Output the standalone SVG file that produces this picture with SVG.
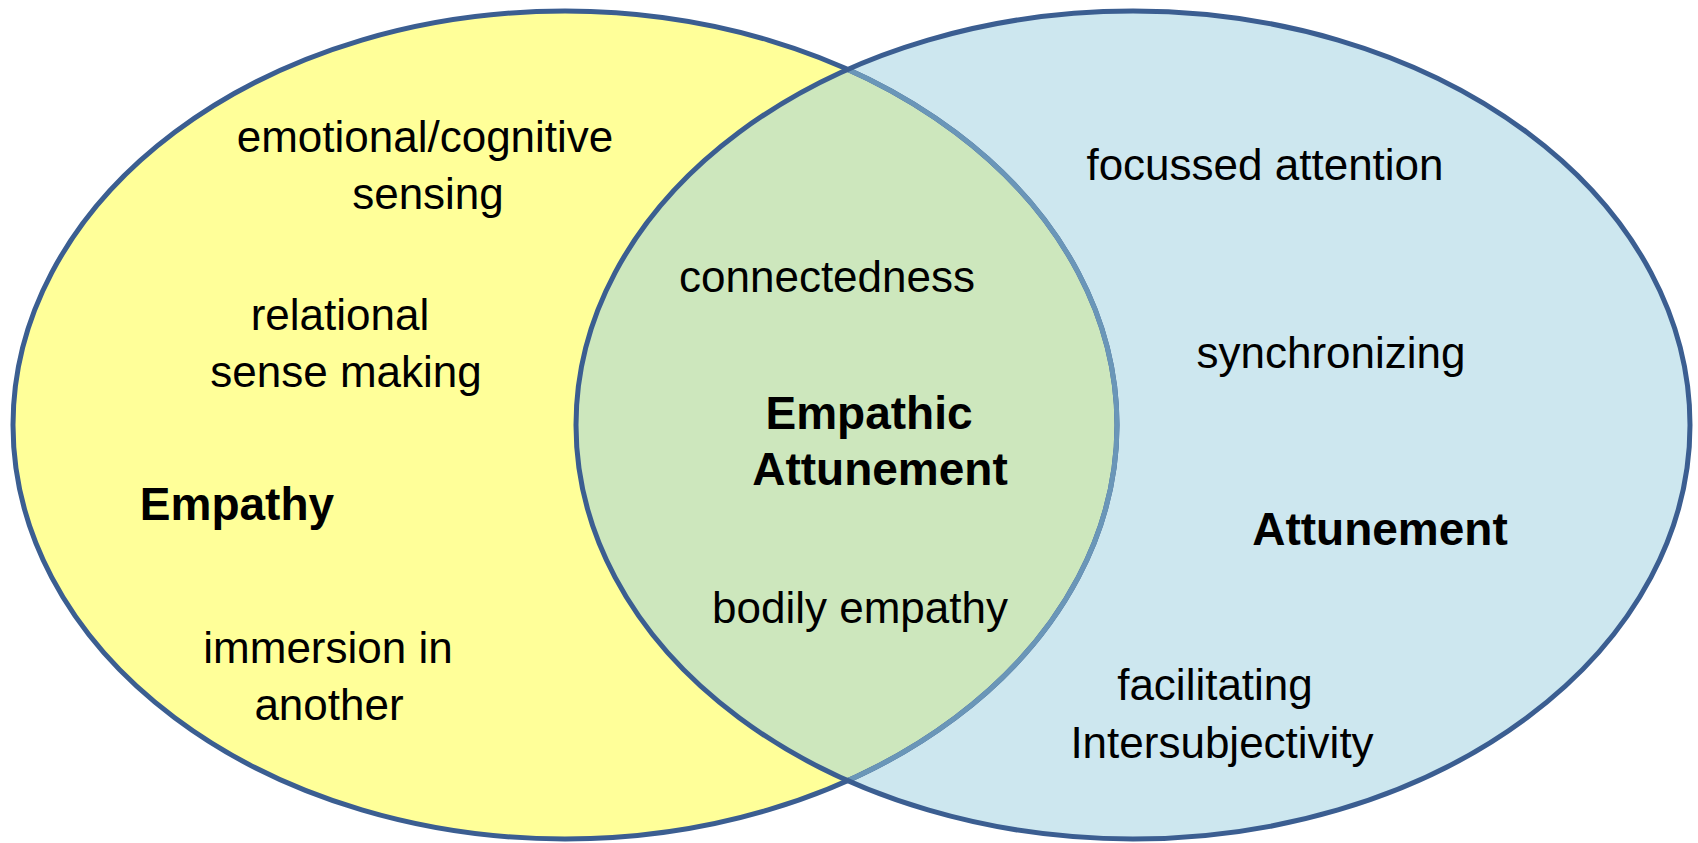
<svg xmlns="http://www.w3.org/2000/svg" width="1698" height="843" viewBox="0 0 1698 843">
<style>
.t{font-family:"Liberation Sans",Arial,sans-serif;font-size:44px;fill:#000;text-anchor:middle}
.b{font-family:"Liberation Sans",Arial,sans-serif;font-size:46px;font-weight:bold;fill:#000;text-anchor:middle}
.edge{fill:none;stroke:#3B5E91;stroke-width:5}
.inner{fill:none;stroke:#6A96B8;stroke-width:5}
</style>
<defs>
<clipPath id="clipL"><ellipse cx="565" cy="425" rx="552" ry="414"/></clipPath>
<clipPath id="clipR"><ellipse cx="1133" cy="425" rx="557" ry="414"/></clipPath>
</defs>
<rect width="1698" height="843" fill="#fff"/>
<g id="empathy">
<ellipse cx="565" cy="425" rx="552" ry="414" fill="#FFFF99"/>
</g>
<g id="attunement">
<ellipse cx="1133" cy="425" rx="557" ry="414" fill="#CDE7EF"/>
</g>
<g id="empathic-attunement">
<ellipse cx="1133" cy="425" rx="557" ry="414" fill="#CDE7BD" clip-path="url(#clipL)"/>
</g>
<g id="outlines">
<ellipse class="edge" cx="565" cy="425" rx="552" ry="414"/>
<ellipse class="inner" cx="565" cy="425" rx="552" ry="414" clip-path="url(#clipR)"/>
<ellipse class="edge" cx="1133" cy="425" rx="557" ry="414"/>
</g>
<g id="empathy-labels">
<text class="t" x="425" y="152">emotional/cognitive</text>
<text class="t" x="428" y="209">sensing</text>
<text class="t" x="340" y="330">relational</text>
<text class="t" x="346" y="387">sense making</text>
<text class="b" x="237" y="520">Empathy</text>
<text class="t" x="328" y="663">immersion in</text>
<text class="t" x="329" y="720">another</text>
</g>
<g id="overlap-labels">
<text class="t" x="827" y="292">connectedness</text>
<text class="b" x="869" y="429">Empathic</text>
<text class="b" x="880" y="485">Attunement</text>
<text class="t" x="860" y="623">bodily empathy</text>
</g>
<g id="attunement-labels">
<text class="t" x="1265" y="180">focussed attention</text>
<text class="t" x="1331" y="368">synchronizing</text>
<text class="b" x="1380" y="545">Attunement</text>
<text class="t" x="1215" y="700">facilitating</text>
<text class="t" x="1222" y="758">Intersubjectivity</text>
</g>
</svg>
